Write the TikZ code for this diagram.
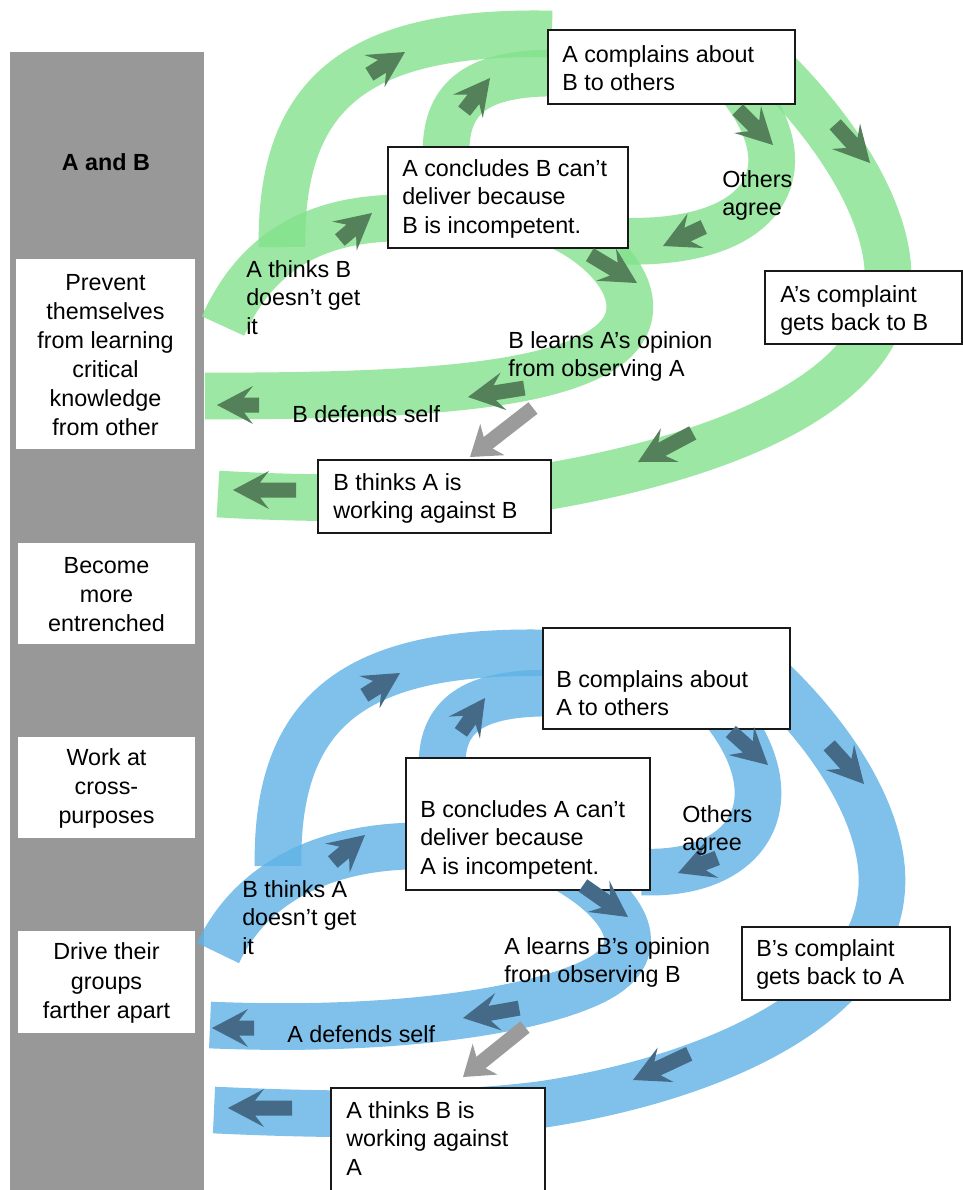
\documentclass[tikz,border=0pt]{standalone}
\usepackage{fontspec}
\setmainfont{Liberation Sans}
\usetikzlibrary{arrows.meta,fit}
\definecolor{barg}{RGB}{152,152,152}
\definecolor{ribg}{RGB}{130,226,140}
\definecolor{ribb}{RGB}{95,178,230}
\definecolor{arrg}{RGB}{84,128,90}
\definecolor{arrb}{RGB}{68,106,135}
\definecolor{conng}{RGB}{155,155,155}
\tikzset{
  ribbon/.style={line width=35pt, draw opacity=0.8, line cap=butt},
  gribbon/.style={ribbon, draw=ribg},
  bribbon/.style={ribbon, draw=ribb},
  pics/darr/.style={code={\fill[pic actions] (0,0) -- (-36,19) -- (-27,7.5) -- (-#1,7.5) -- (-#1,-7.5) -- (-27,-7.5) -- (-36,-19) -- cycle;}},
  garr/.style={fill=arrg},
  barr/.style={fill=arrb},
  box/.style={draw=black!90, line width=0.9pt, fill=white, inner sep=0pt},
  lab/.style={font=\fontsize{17.5}{21.6}\selectfont, align=left, inner sep=0pt, anchor=north west},
  sidebox/.style={fill=white, inner sep=0pt},
  sidetxt/.style={align=center, inner sep=0pt, font=\fontsize{17.5}{21.8}\selectfont},
  bar/.style={fill=barg, inner sep=0pt},
  conn/.style={draw=conng, line width=11pt, -{Stealth[length=21pt,width=29pt,inset=6pt]}},
}
\begin{document}
\begin{tikzpicture}[x=0.75pt,y=-0.75pt]
\useasboundingbox (0,0) rectangle (963,1190);
\fill[white] (0,0) rectangle (963,1190);
% left column
\node[bar, fit={(10,52) (204,1196)}] (bar) {};
\node[font=\bfseries\fontsize{17.5}{21}\selectfont] (ab) at (106,162) {A and B};
\node[sidebox, fit={(16,259) (195,449)}] (s1) {};
\node[sidetxt] (s1t) at ([yshift=-0.75pt]s1.center) {Prevent\\themselves\\from learning\\critical\\knowledge\\from other};
\node[sidebox, fit={(18,543) (195,644)}] (s2) {};
\node[sidetxt] (s2t) at ([yshift=-0.75pt]s2.center) {Become\\more\\entrenched};
\node[sidebox, fit={(18,737) (195,838)}] (s3) {};
\node[sidetxt] (s3t) at ([yshift=-0.75pt]s3.center) {Work at\\cross-\\purposes};
\node[sidebox, fit={(18,931) (195,1033)}] (s4) {};
\node[sidetxt] (s4t) at ([yshift=-0.75pt]s4.center) {Drive their\\groups\\farther apart};
% green ribbons
\draw[gribbon] (282,247) .. controls (280,90) and (360,30) .. (552,34);
\draw[gribbon] (446,152) .. controls (446,95) and (480,73) .. (555,73);
\draw[gribbon] (735,80) .. controls (812,170) and (765,246) .. (620,241);
\draw[gribbon] (775,70) .. controls (845,140) and (890,220) .. (888,280) .. controls (886,400) and (700,460) .. (550,486) .. controls (450,500) and (320,500) .. (218,494);
\draw[gribbon] (223,326) .. controls (255,255) and (310,220) .. (395,218);
\draw[gribbon] (555,224) .. controls (615,250) and (660,310) .. (605,348) .. controls (545,389) and (400,396) .. (205,396);
% blue ribbons
\draw[bribbon] (278,866) .. controls (276,709) and (356,649) .. (548,653);
\draw[bribbon] (442,765) .. controls (442,712) and (478,693) .. (550,693);
\draw[bribbon] (723,710) .. controls (795,800) and (750,876) .. (642,872);
\draw[bribbon] (770,678) .. controls (840,745) and (882,820) .. (882,880) .. controls (882,1010) and (700,1080) .. (545,1104) .. controls (450,1117) and (320,1115) .. (214,1110);
\draw[bribbon] (218,953) .. controls (250,885) and (320,848) .. (412,846);
\draw[bribbon] (560,866) .. controls (615,895) and (658,945) .. (600,978) .. controls (545,1009) and (400,1033) .. (210,1025);
% green boxes
\node[box, fit={(548,30) (795,104)}] (acompl) {};
\node[lab] (acompl-t) at (562,45) {A complains about\\B to others};
\node[box, fit={(388,147) (628,248)}] (aconcl) {};
\node[lab] (aconcl-t) at (402,159) {A concludes B can't\\deliver because\\B is incompetent.};
\node[box, fit={(765,271) (962,344)}] (acomplt) {};
\node[lab] (acomplt-t) at (780,285) {A's complaint\\gets back to B};
\node[box, fit={(318,460) (551,533)}] (bthinks) {};
\node[lab] (bthinks-t) at (333,473) {B thinks A is\\working against B};
% blue boxes
\node[box, fit={(543,628) (790,729)}] (bcompl) {};
\node[lab] (bcompl-t) at (556,670) {B complains about\\A to others};
\node[box, fit={(406,758) (650,890)}] (bconcl) {};
\node[lab] (bconcl-t) at (420,800) {B concludes A can't\\deliver because\\A is incompetent.};
\node[box, fit={(742,927) (950,1000)}] (bcomplt) {};
\node[lab] (bcomplt-t) at (756,939) {B's complaint\\gets back to A};
\node[box, fit={(331,1088) (545,1200)}] (athinks) {};
\node[lab] (athinks-t) at (346,1101) {A thinks B is\\working against\\A};
% green arrows
\pic[garr, rotate=32] at (405,52) {darr=42};
\pic[garr, rotate=52] at (490,78) {darr=42};
\pic[garr, rotate=-45] at (773,145) {darr=50};
\pic[garr, rotate=205] at (663,246) {darr=45};
\pic[garr, rotate=-48] at (870,163) {darr=52};
\pic[garr, rotate=208] at (638,462) {darr=62};
\pic[garr, rotate=180] at (233,490) {darr=63};
\pic[garr, rotate=40] at (372,213) {darr=42};
\pic[garr, rotate=-31] at (637,283) {darr=55};
\pic[garr, rotate=189] at (468,397) {darr=57};
\pic[garr, rotate=180] at (217,405) {darr=42};
% blue arrows
\pic[barr, rotate=32] at (400,673) {darr=42};
\pic[barr, rotate=55] at (485,698) {darr=42};
\pic[barr, rotate=-42] at (768,765) {darr=50};
\pic[barr, rotate=201] at (678,873) {darr=42};
\pic[barr, rotate=-48] at (864,784) {darr=52};
\pic[barr, rotate=205] at (633,1080) {darr=62};
\pic[barr, rotate=180] at (228,1108) {darr=64};
\pic[barr, rotate=40] at (365,835) {darr=42};
\pic[barr, rotate=-35] at (628,917) {darr=55};
\pic[barr, rotate=190] at (463,1018) {darr=57};
\pic[barr, rotate=180] at (212,1028) {darr=42};
% gray connectors
\coordinate (gc1) at (533,408);
\coordinate (gc2) at (470,457);
\draw[conn] (gc1) -- (gc2);
\coordinate (bc1) at (525,1027);
\coordinate (bc2) at (463,1077);
\draw[conn] (bc1) -- (bc2);
% free labels
\node[lab] (gothers) at (722,170) {Others\\agree};
\node[lab] (gathinks) at (246,260) {A thinks B\\doesn't get\\it};
\node[lab] (glearns) at (508,331) {B learns A's opinion\\from observing A};
\node[lab] (gdefends) at (292,405) {B defends self};
\node[lab] (bothers) at (682,805) {Others\\agree};
\node[lab] (bbthinks) at (242,880) {B thinks A\\doesn't get\\it};
\node[lab] (blearns) at (504,937) {A learns B's opinion\\from observing B};
\node[lab] (bdefends) at (287,1025) {A defends self};
\end{tikzpicture}
\end{document}
